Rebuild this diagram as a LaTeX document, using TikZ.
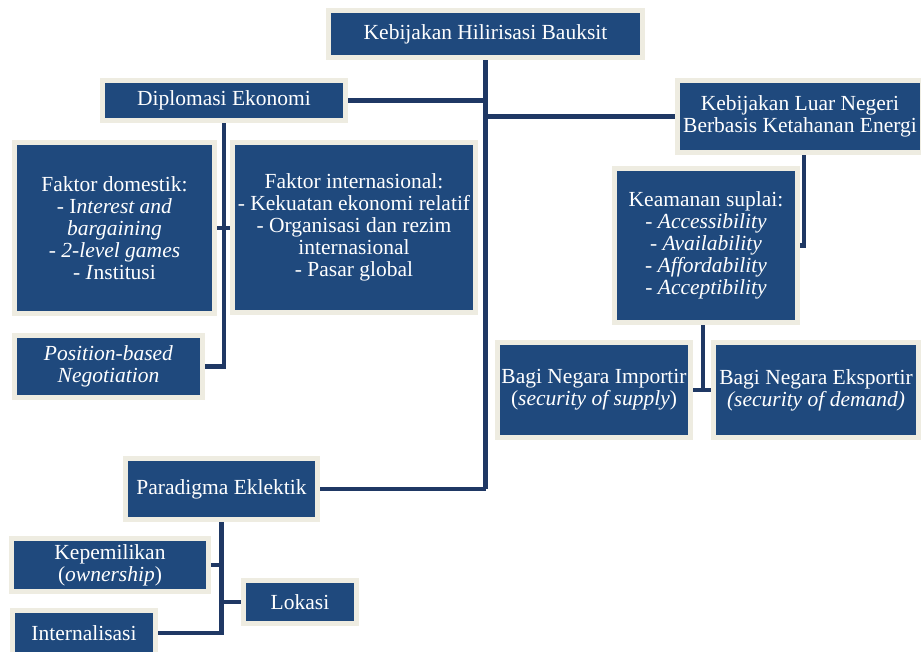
\documentclass[tikz,border=0pt]{standalone}
\usepackage{fontspec}
\setmainfont{Liberation Serif}
\usetikzlibrary{backgrounds}
\definecolor{isi}{HTML}{1F497D}
\definecolor{tepi}{HTML}{EEECE1}
\definecolor{garis}{HTML}{1F3864}

\begin{document}
\begin{tikzpicture}[x=1pt,y=-1pt,
  kotak/.style={draw=tepi,line width=5pt,fill=isi,text=white,
    align=center,inner sep=1pt,font=\fontsize{21.5}{22}\selectfont},
  hubung/.style={draw=garis,line width=4.5pt}]
 \useasboundingbox (0,0) rectangle (921,652);
 % pusat
 \node[kotak,minimum width=314pt,minimum height=47pt] (hilir) at (485.5,34)
  {Kebijakan Hilirisasi Bauksit};
 % cabang kiri atas
 \node[kotak,minimum width=243pt,minimum height=40pt] (diplo) at (224,100.5)
  {Diplomasi Ekonomi};
 \node[kotak,minimum width=200pt,minimum height=171pt] (domestik) at (114.5,228)
  {Faktor domestik:\\ - I\textit{nterest and}\\ \textit{bargaining}\\
   - \textit{2-level games}\\ - \textit{I}nstitusi};
 \node[kotak,minimum width=243pt,minimum height=170pt] (intl) at (354,227.5)
  {Faktor internasional:\\ - Kekuatan ekonomi relatif\\
   - Organisasi dan rezim\\ internasional\\ - Pasar global};
 \node[kotak,minimum width=188pt,minimum height=62pt] (posisi) at (108.5,366.5)
  {\textit{Position-based}\\ \textit{Negotiation}};
 % cabang kanan
 \node[kotak,minimum width=245pt,minimum height=72pt] (luar) at (800,116.5)
  {Kebijakan Luar Negeri\\ Berbasis Ketahanan Energi};
 \node[kotak,minimum width=183pt,minimum height=154pt] (aman) at (706,245.5)
  {Keamanan suplai:\\ - \textit{Accessibility}\\ - \textit{Availability}\\
   - \textit{Affordability}\\ - \textit{Acceptibility}};
 \node[kotak,minimum width=193pt,minimum height=95pt] (impor) at (594,390)
  {Bagi Negara Importir\\ (\textit{security of supply})};
 \node[kotak,minimum width=205pt,minimum height=95pt] (ekspor) at (816,390)
  {Bagi Negara Eksportir\\ \textit{(security of demand)}};
 % cabang kiri bawah
 \node[kotak,minimum width=192pt,minimum height=61pt] (eklek) at (221.5,489)
  {Paradigma Eklektik};
 \node[kotak,minimum width=197pt,minimum height=53pt] (milik) at (110,565)
  {Kepemilikan\\ (\textit{ownership})};
 \node[kotak,minimum width=113pt,minimum height=43pt] (lokasi) at (300,602)
  {Lokasi};
 \node[kotak,minimum width=143pt,minimum height=45pt] (intern) at (84,633)
  {Internalisasi};

 \begin{scope}[on background layer]
  \draw[hubung] (hilir.south) -- (hilir.south |- eklek.east);
  \draw[hubung] (diplo.east) -- (diplo.east -| hilir.south);
  \draw[hubung] (luar.west) -- (luar.west -| hilir.south);
  \draw[hubung] (eklek.east) -- (eklek.east -| hilir.south);
  \draw[hubung] (diplo.south) -- (diplo.south |- posisi.east) -- (posisi.east);
  \draw[hubung] (domestik.east) -- (domestik.east -| intl.west);
  \draw[hubung] ([xshift=4pt]luar.south) -- ([xshift=4pt]luar.south |- aman.east)
   -- (aman.east);
  \draw[hubung] ([xshift=-3pt]aman.south) -- ([xshift=-3pt]aman.south |- impor.east);
  \draw[hubung] (impor.east) -- (ekspor.west);
  \draw[hubung] (eklek.south) -- (eklek.south |- intern.east) -- (intern.east);
  \draw[hubung] (milik.east) -- (milik.east -| eklek.south);
  \draw[hubung] (lokasi.west) -- (lokasi.west -| eklek.south);
 \end{scope}
\end{tikzpicture}
\end{document}
